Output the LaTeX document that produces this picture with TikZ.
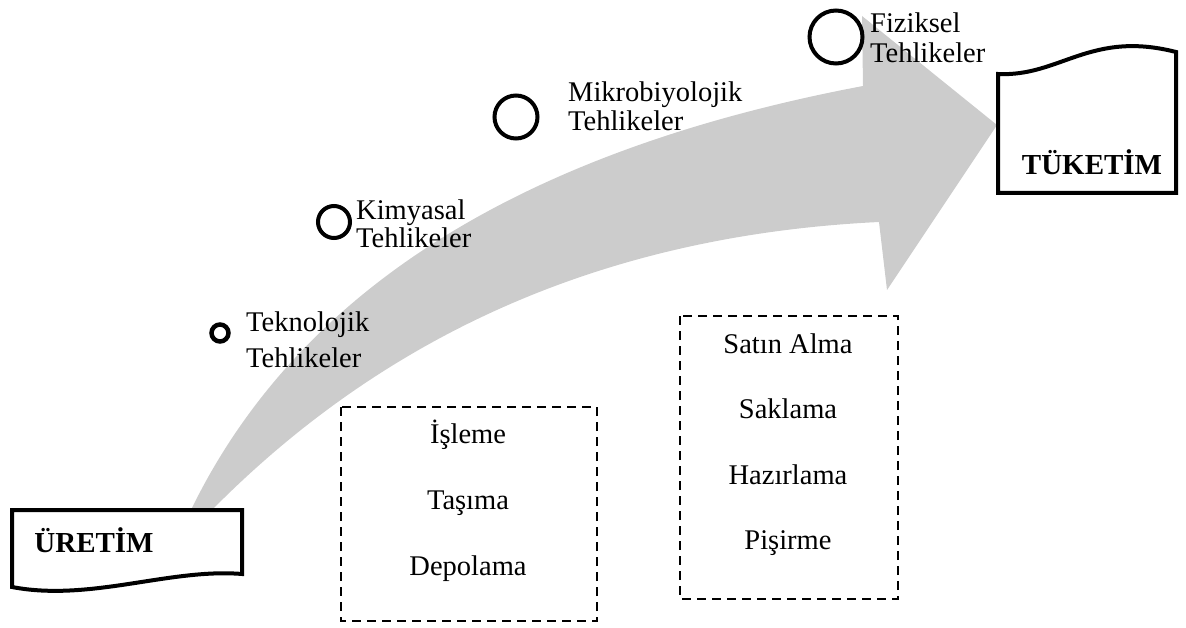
\documentclass[tikz,border=0pt]{standalone}
\usepackage{fontspec}
\setmainfont{Liberation Serif}
\definecolor{arrowgray}{RGB}{204,204,204}
\begin{document}
\begin{tikzpicture}[x=1pt,y=-1pt,
  txt/.style={font=\fontsize{28.5}{30}\selectfont, inner sep=0pt, anchor=base},
  lbl/.style={font=\fontsize{28.5}{30}\selectfont, inner sep=0pt, anchor=base west},
  ttl/.style={font=\fontsize{29}{30}\selectfont\bfseries, inner sep=0pt, anchor=base},
  hz/.style={draw, circle, fill=white, inner sep=0pt},
  dbox/.style={draw, line width=2.5pt, dash pattern=on 9pt off 6pt},
  wbox/.style={draw, line width=4pt, fill=white, line join=miter}]
\useasboundingbox (0,0) rectangle (1186,628);
% big curved arrow
\coordinate (tailL) at (189,514);
\coordinate (tailR) at (208,514);
\coordinate (shU) at (863,86);
\coordinate (barbU) at (862,16);
\coordinate (tip) at (997,125);
\coordinate (barbL) at (887,290);
\coordinate (shL) at (879,222);
\fill[arrowgray] (tailL) .. controls (300,282) and (535,148) .. (shU) -- (barbU) -- (tip) -- (barbL) -- (shL) .. controls (610,235) and (387,331) .. (tailR) -- cycle;
% production / consumption boxes
\draw[wbox] (12,510) -- (242,510) -- (242,574) .. controls (170,568) and (90,602) .. (12,587) -- cycle;
\node[ttl] (uretim) at (94,552) {ÜRETİM};
\draw[wbox] (998,74) .. controls (1060,77) and (1090,30) .. (1176,52) -- (1176,193) -- (998,193) -- cycle;
\node[ttl] (tuketim) at (1092,175) {TÜKETİM};
% hazards
\node[hz, line width=4.5pt, minimum size=17pt] (c1) at (220,333) {};
\node[lbl] (l1a) at (246,331) {Teknolojik};
\node[lbl] (l1b) at (246,367) {Tehlikeler};
\node[hz, line width=4pt, minimum size=32pt] (c2) at (334,222) {};
\node[lbl] (l2a) at (356,220) {Kimyasal};
\node[lbl] (l2b) at (356,248) {Tehlikeler};
\node[hz, line width=4pt, minimum size=43pt] (c3) at (516,117) {};
\node[lbl] (l3a) at (568,102) {Mikrobiyolojik};
\node[lbl] (l3b) at (568,131) {Tehlikeler};
\node[hz, line width=4pt, minimum size=53pt] (c4) at (836,37) {};
\node[lbl] (l4a) at (870,33) {Fiziksel};
\node[lbl] (l4b) at (870,63) {Tehlikeler};
% dashed boxes
\draw[dbox] (341,407) rectangle (597,621);
\node[txt] (s1) at (468,443) {İşleme};
\node[txt] (s2) at (468,509) {Taşıma};
\node[txt] (s3) at (468,575) {Depolama};
\draw[dbox] (680,316) rectangle (898,599);
\node[txt] (t1) at (788,353) {Satın Alma};
\node[txt] (t2) at (788,418) {Saklama};
\node[txt] (t3) at (788,484) {Hazırlama};
\node[txt] (t4) at (788,549) {Pişirme};
\end{tikzpicture}
\end{document}
